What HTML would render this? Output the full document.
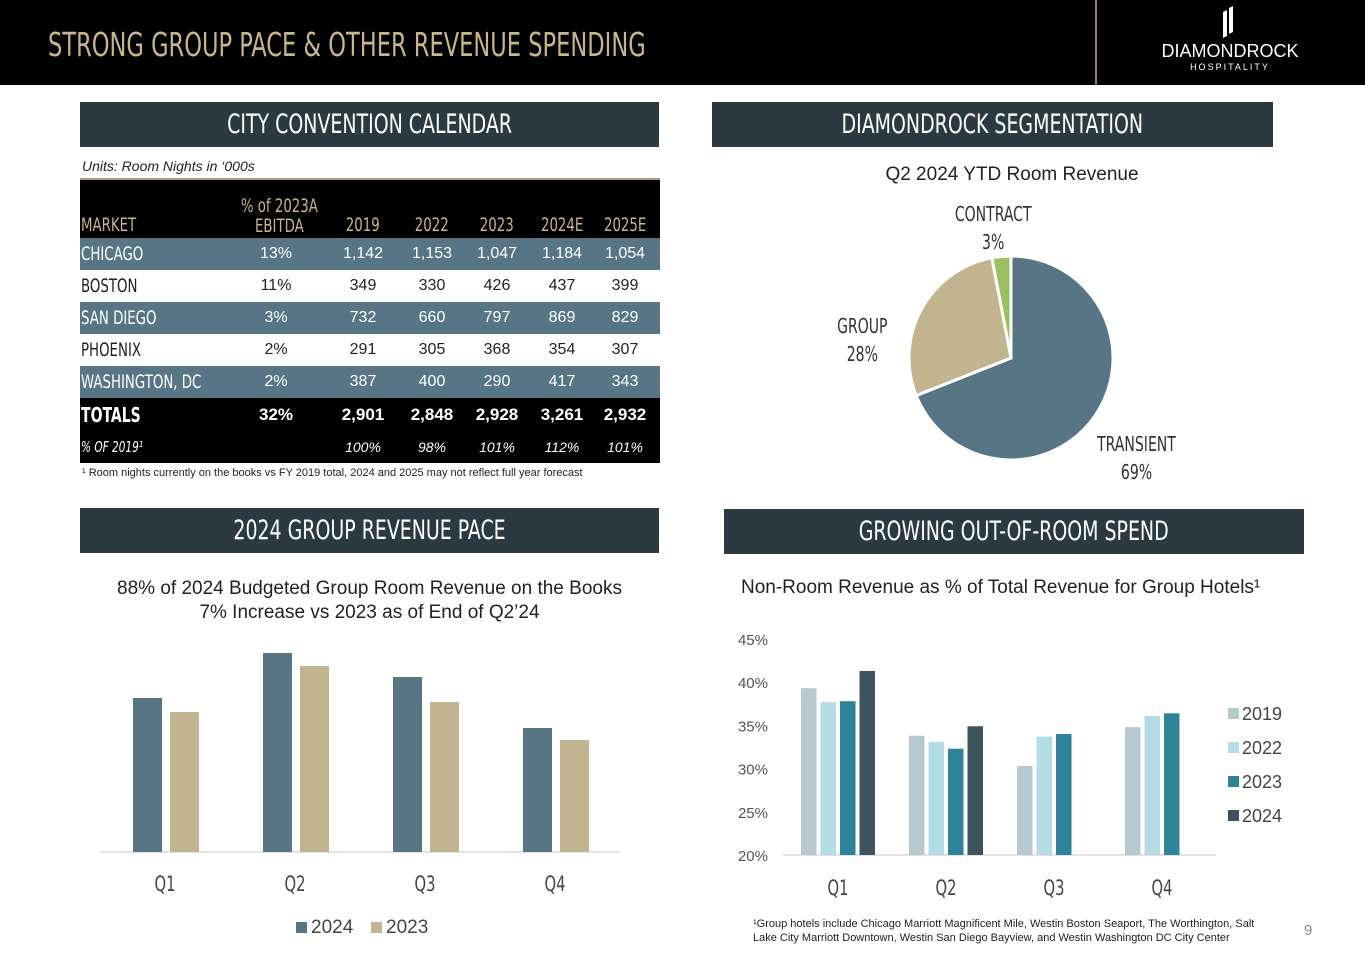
<!DOCTYPE html>
<html><head><meta charset="utf-8">
<style>
*{margin:0;padding:0;box-sizing:border-box}
body{width:1365px;height:956px;background:#fff;position:relative;overflow:hidden;font-family:"Liberation Sans",sans-serif}
.cond{font-family:"DejaVu Sans Condensed","Liberation Sans",sans-serif}
.sq{display:inline-block;transform:scaleX(0.78);transform-origin:center;white-space:nowrap}
.sql{display:inline-block;transform:scaleX(0.78);transform-origin:left;white-space:nowrap}
.abs{position:absolute}
.sec{position:absolute;background:#2b3a40;color:#fff;font-size:27px;text-align:center;line-height:45px;height:45px;overflow:hidden}
table{border-collapse:collapse;position:absolute;left:80px;top:180px;width:580px;table-layout:fixed}
td{height:32px;font-size:16px;text-align:center;color:#222;white-space:nowrap;overflow:visible}
td.m{text-align:left;font-size:19px;padding-left:1px}
tr.b td{background:#587585;color:#fff}
tr.h td{background:#000;color:#c8b68a;font-size:19px;vertical-align:bottom;height:58px;padding-bottom:2px}
tr.t td{background:#000;color:#fff;font-weight:bold;font-size:17px;height:33px}
tr.p td{background:#000;color:#fff;font-style:italic;font-size:14px;height:32px}
.pl{position:absolute;text-align:center;font-size:20px;color:#333;line-height:28px;width:160px}
</style></head><body>
<div class="abs" style="left:0;top:0;width:1365px;height:85px;background:#000"></div>
<div class="abs cond" style="left:48px;top:25px;color:#c8b68a;font-size:33px"><span class="sql" style="transform:scaleX(0.76)">STRONG GROUP PACE &amp; OTHER REVENUE SPENDING</span></div>
<div class="abs" style="left:1095px;top:0;width:2px;height:85px;background:#8c7f63"></div>
<div class="abs" style="left:1140px;top:6px;width:180px;height:70px;color:#fff;text-align:center">
 <svg width="20" height="34" style="position:absolute;left:79px;top:0"><polygon points="4,6 8,4 8,30 4,32" fill="#fff"/><polygon points="10,2 14,0 14,26 10,28" fill="#fff"/></svg>
 <div style="position:absolute;top:35px;width:180px;font-size:18px;letter-spacing:0px">DIAMONDROCK</div>
 <div style="position:absolute;top:56px;width:180px;font-size:9px;letter-spacing:2px">HOSPITALITY</div>
</div>

<div class="sec cond" style="left:80px;top:102px;width:579px"><span class="sq">CITY CONVENTION CALENDAR</span></div>
<div class="abs" style="left:82px;top:158px;font-size:14px;font-style:italic;color:#222">Units: Room Nights in ‘000s</div>
<div class="abs" style="left:80px;top:178px;width:580px;height:2px;background:#a89b78"></div>
<table>
<colgroup><col style="width:150px"><col style="width:92px"><col style="width:82px"><col style="width:56px"><col style="width:74px"><col style="width:56px"><col style="width:70px"></colgroup>
<tr class="h cond"><td class="m"><span class="sql">MARKET</span></td><td style="line-height:20px"><span class="sq">% of 2023A<br>EBITDA</span></td><td><span class="sq">2019</span></td><td><span class="sq">2022</span></td><td><span class="sq">2023</span></td><td><span class="sq">2024E</span></td><td><span class="sq">2025E</span></td></tr>
<tr class="b"><td class="m cond"><span class="sql">CHICAGO</span></td><td>13%</td><td>1,142</td><td>1,153</td><td>1,047</td><td>1,184</td><td>1,054</td></tr>
<tr><td class="m cond"><span class="sql">BOSTON</span></td><td>11%</td><td>349</td><td>330</td><td>426</td><td>437</td><td>399</td></tr>
<tr class="b"><td class="m cond"><span class="sql">SAN DIEGO</span></td><td>3%</td><td>732</td><td>660</td><td>797</td><td>869</td><td>829</td></tr>
<tr><td class="m cond"><span class="sql">PHOENIX</span></td><td>2%</td><td>291</td><td>305</td><td>368</td><td>354</td><td>307</td></tr>
<tr class="b"><td class="m cond"><span class="sql">WASHINGTON, DC</span></td><td>2%</td><td>387</td><td>400</td><td>290</td><td>417</td><td>343</td></tr>
<tr class="t"><td class="m cond" style="font-size:20px"><span class="sql">TOTALS</span></td><td>32%</td><td>2,901</td><td>2,848</td><td>2,928</td><td>3,261</td><td>2,932</td></tr>
<tr class="p"><td class="m cond" style="font-size:15px"><span class="sql">% OF 2019¹</span></td><td></td><td>100%</td><td>98%</td><td>101%</td><td>112%</td><td>101%</td></tr>
</table>
<div class="abs" style="left:82px;top:467px;font-size:11px;color:#222">¹ Room nights currently on the books vs FY 2019 total, 2024 and 2025 may not reflect full year forecast</div>

<div class="sec cond" style="left:712px;top:102px;width:561px"><span class="sq">DIAMONDROCK SEGMENTATION</span></div>
<div class="abs" style="left:812px;top:164px;width:400px;text-align:center;font-size:19px;color:#222">Q2 2024 YTD Room Revenue</div>
<svg class="abs" id="pie" style="left:800px;top:190px" width="420" height="310"></svg>
<div id="pielabels"></div>

<div class="sec cond" style="left:80px;top:508px;width:579px"><span class="sq">2024 GROUP REVENUE PACE</span></div>
<div class="abs" style="left:80px;top:577px;width:579px;text-align:center;font-size:19px;color:#222;line-height:24px">88% of 2024 Budgeted Group Room Revenue on the Books<br>7% Increase vs 2023 as of End of Q2’24</div>
<svg class="abs" id="pace" style="left:80px;top:630px" width="590" height="320"></svg>

<div class="sec cond" style="left:724px;top:509px;width:580px"><span class="sq">GROWING OUT-OF-ROOM SPEND</span></div>
<div class="abs" style="left:741px;top:577px;font-size:19px;color:#222">Non-Room Revenue as % of Total Revenue for Group Hotels¹</div>
<svg class="abs" id="spend" style="left:720px;top:620px" width="620" height="290"></svg>
<div class="abs" style="left:753px;top:917px;font-size:11px;color:#222;line-height:14px;width:525px">¹Group hotels include Chicago Marriott Magnificent Mile, Westin Boston Seaport, The Worthington, Salt Lake City Marriott Downtown, Westin San Diego Bayview, and Westin Washington DC City Center</div>
<div class="abs" style="left:1304px;top:922px;font-size:15px;color:#888">9</div>

<script>
const NS='http://www.w3.org/2000/svg';
function mk(p,t,a){const e=document.createElementNS(NS,t);for(const k in a)e.setAttribute(k,a[k]);p.appendChild(e);return e;}
const COND='"DejaVu Sans Condensed",sans-serif';

// Pie
const pieLabels=['TRANSIENT','GROUP','CONTRACT'];
const pieValues=[69,28,3];
const pieColors=['#587585','#c1b48f','#9bc060'];
(function(){
 const s=document.getElementById('pie');const cx=211,cy=168,r=102;
 let a0=0;const tot=pieValues.reduce((a,b)=>a+b,0);
 const lp=[[1136,430],[862,312],[993,200]];
 const holder=document.getElementById('pielabels');
 pieValues.forEach((v,i)=>{
  const a1=a0+v/tot*2*Math.PI;
  const x0=cx+r*Math.sin(a0),y0=cy-r*Math.cos(a0),x1=cx+r*Math.sin(a1),y1=cy-r*Math.cos(a1);
  const p=mk(s,'path',{d:`M${cx},${cy}L${x0},${y0}A${r},${r} 0 ${a1-a0>Math.PI?1:0} 1 ${x1},${y1}Z`,fill:pieColors[i],stroke:'#fff','stroke-width':3});
  
  
  const d=document.createElement('div');
  d.className='pl cond';
  d.style.left=(lp[i][0]-80)+'px';d.style.top=lp[i][1]+'px';
  d.innerHTML='<span class="sq">'+pieLabels[i]+'<br>'+v+'%</span>';
  
  
  holder.appendChild(d);
  a0=a1;
 });
})();

// Pace chart (relative values, no axis shown)
const paceCats=['Q1','Q2','Q3','Q4'];
const pace2024=[154,199,175,124];
const pace2023=[140,186,150,112];
(function(){
 const s=document.getElementById('pace');const base=222;const sc=1;
 const xc=i=>85+130*i;
 mk(s,'line',{x1:20,x2:540,y1:base,y2:base,stroke:'#d9d9d9','stroke-width':1.5});
 paceCats.forEach((c,i)=>{
  const r1=mk(s,'rect',{x:xc(i)-32,y:base-pace2024[i]*sc,width:29,height:pace2024[i]*sc,fill:'#587585'});
  
  
  const r2=mk(s,'rect',{x:xc(i)+5,y:base-pace2023[i]*sc,width:29,height:pace2023[i]*sc,fill:'#c1b48f'});
  
  
  const t=mk(s,'text',{x:xc(i),y:261,'text-anchor':'middle','font-size':21,fill:'#444','font-family':COND,transform:`translate(${xc(i)*0.22},0) scale(0.78,1)`});t.textContent=c;
  
  
 });
 const lg=[['2024','#587585',216],['2023','#c1b48f',291]];
 lg.forEach(l=>{
  const r=mk(s,'rect',{x:l[2],y:292,width:11,height:11,fill:l[1]});
  
  
  const t=mk(s,'text',{x:l[2]+15,y:303,'font-size':19,fill:'#444'});t.textContent=l[0];
  
  
 });
})();

// Spend chart
const spendCats=['Q1','Q2','Q3','Q4'];
const spendYears=['2019','2022','2023','2024'];
const s2019=[39.3,33.8,30.3,34.8];
const s2022=[37.7,33.1,33.7,36.1];
const s2023=[37.8,32.3,34.0,36.4];
const s2024=[41.3,34.9,null,null];
const yTicks=[20,25,30,35,40,45];
const spendColors=['#b7c9d0','#b5dde8','#2e8399','#3c545d'];
(function(){
 const s=document.getElementById('spend');
 const y=v=>235-(v-20)*8.64;
 const xc=i=>118+108*i;
 yTicks.forEach(v=>{const t=mk(s,'text',{x:48,y:y(v)+6,'text-anchor':'end','font-size':15,fill:'#555'});t.textContent=v+'%';
  
  });
 mk(s,'line',{x1:63,x2:496,y1:y(20),y2:y(20),stroke:'#d9d9d9','stroke-width':1.5});
 const series=[s2019,s2022,s2023,s2024];
 spendCats.forEach((c,i)=>{
  series.forEach((arr,k)=>{
   const v=arr[i];if(v==null)return;
   const r=mk(s,'rect',{x:xc(i)-37+k*19.5,y:y(v),width:15.5,height:y(20)-y(v),fill:spendColors[k]});
   
   
  });
  const t=mk(s,'text',{x:xc(i),y:275,'text-anchor':'middle','font-size':21,fill:'#444','font-family':COND,transform:`translate(${xc(i)*0.22},0) scale(0.78,1)`});t.textContent=c;
  
  
 });
 spendYears.forEach((yr,k)=>{
  const r=mk(s,'rect',{x:508,y:88+k*34,width:11,height:11,fill:spendColors[k]});
  
  
  const t=mk(s,'text',{x:522,y:100+k*34,'font-size':18,fill:'#444'});t.textContent=yr;
  
  
 });
})();
</script>
</body></html>
